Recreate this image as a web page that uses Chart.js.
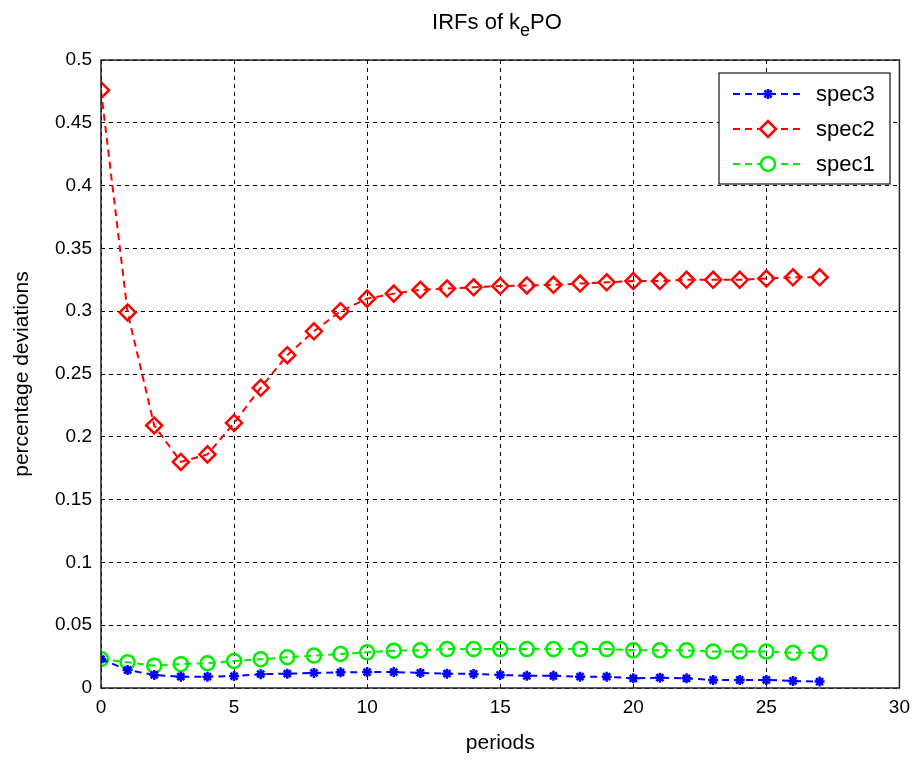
<!DOCTYPE html>
<html lang="en">
<head>
    <meta charset="UTF-8">
    <title>IRFs of kePO</title>
    <script src="https://cdn.jsdelivr.net/npm/chart.js"></script>
    <style>
        html, body { margin: 0; padding: 0; background: #fff; }
        #wrap { width: 918px; height: 760px; position: relative; }
    </style>
</head>
<body>
    <div id="wrap"><canvas id="irfChart" width="918" height="760"></canvas></div>
    <script>
        // values
        const periods = [0,1,2,3,4,5,6,7,8,9,10,11,12,13,14,15,16,17,18,19,20,21,22,23,24,25,26,27];
        const spec3 = [0.023,0.0143,0.0104,0.009,0.009,0.0095,0.011,0.0114,0.012,0.0125,0.0127,0.0127,0.012,0.0114,0.0112,0.0104,0.0097,0.0097,0.009,0.009,0.0077,0.0082,0.0077,0.0064,0.0064,0.0064,0.0056,0.0051];
        const spec2 = [0.476,0.299,0.209,0.180,0.186,0.211,0.239,0.265,0.284,0.300,0.310,0.314,0.317,0.318,0.319,0.320,0.3205,0.321,0.322,0.323,0.324,0.324,0.325,0.325,0.325,0.326,0.327,0.327];
        const spec1 = [0.023,0.0205,0.0178,0.019,0.0197,0.0215,0.0229,0.0245,0.0258,0.0271,0.0284,0.0297,0.030,0.031,0.031,0.031,0.031,0.031,0.031,0.031,0.030,0.030,0.030,0.029,0.029,0.029,0.028,0.028];
        const xTicks = [0, 5, 10, 15, 20, 25, 30];
        const yTicks = [0, 0.05, 0.1, 0.15, 0.2, 0.25, 0.3, 0.35, 0.4, 0.45, 0.5];

        const toPoints = arr => arr.map((v, i) => ({ x: periods[i], y: v }));
        const FONT = '"Liberation Sans", Arial, sans-serif';

        function series(label, values, color, style, radius) {
            return {
                label: label,
                data: toPoints(values),
                borderColor: color,
                backgroundColor: 'rgba(0,0,0,0)',
                borderWidth: 2,
                borderDash: [7, 5],
                pointStyle: style,
                pointRadius: radius,
                pointBorderColor: color,
                pointBorderWidth: 2.5,
                pointBackgroundColor: 'rgba(0,0,0,0)',
                tension: 0
            };
        }

        // frame, title and legend in matlab style
        const decor = {
            id: 'decor',
            afterDraw(chart) {
                const ctx = chart.ctx;
                const a = chart.chartArea;
                ctx.save();
                ctx.strokeStyle = '#222';
                ctx.lineWidth = 1.5;
                ctx.setLineDash([]);
                ctx.strokeRect(a.left, a.top, a.right - a.left, a.bottom - a.top);

                // title with subscript
                ctx.fillStyle = '#000';
                ctx.textBaseline = 'alphabetic';
                ctx.textAlign = 'left';
                const big = '22px ' + FONT, small = '18px ' + FONT;
                ctx.font = big;
                const w0 = ctx.measureText('IRFs of k').width;
                const w2 = ctx.measureText('PO').width;
                ctx.font = small;
                const w1 = ctx.measureText('e').width;
                const x = 497 - (w0 + w1 + w2) / 2;
                const base = 29;
                ctx.font = big;
                ctx.fillText('IRFs of k', x, base);
                ctx.fillText('PO', x + w0 + w1, base);
                ctx.font = small;
                ctx.fillText('e', x + w0, base + 7);

                // legend box
                const lx = 719, ly = 73, lw = 171, lh = 111;
                ctx.fillStyle = '#fff';
                ctx.fillRect(lx, ly, lw, lh);
                ctx.strokeStyle = '#111';
                ctx.lineWidth = 1.2;
                ctx.strokeRect(lx, ly, lw, lh);
                chart.data.datasets.forEach((ds, i) => {
                    const yy = ly + 21 + i * 35;
                    ctx.strokeStyle = ds.borderColor;
                    ctx.lineWidth = 2;
                    ctx.setLineDash([7, 5]);
                    ctx.beginPath();
                    ctx.moveTo(lx + 14, yy);
                    ctx.lineTo(lx + 84, yy);
                    ctx.stroke();
                    ctx.setLineDash([]);
                    ctx.lineWidth = 2.5;
                    ctx.fillStyle = '#fff';
                    Chart.helpers.drawPoint(ctx, { pointStyle: ds.pointStyle, radius: ds.pointRadius, borderWidth: 2.5, rotation: 0 }, lx + 49, yy);
                    ctx.fillStyle = '#000';
                    ctx.font = '22px ' + FONT;
                    ctx.textBaseline = 'middle';
                    ctx.fillText(ds.label, lx + 97, yy + 1);
                });
                ctx.restore();
            }
        };

        new Chart(document.getElementById('irfChart'), {
            type: 'line',
            data: {
                datasets: [
                    series('spec3', spec3, '#0000ff', 'star', 5),
                    series('spec2', spec2, '#ff0000', 'rectRot', 8),
                    series('spec1', spec1, '#00ee00', 'circle', 7)
                ]
            },
            options: {
                responsive: false,
                animation: false,
                layout: { padding: { top: 60, right: 17, left: 6, bottom: 0 } },
                plugins: {
                    legend: { display: false },
                    title: { display: false },
                    tooltip: { enabled: false }
                },
                scales: {
                    x: {
                        type: 'linear',
                        min: 0, max: 30,
                        afterFit(s) { s.height = 72; },
                        afterBuildTicks(s) { s.ticks = xTicks.map(v => ({ value: v })); },
                        ticks: { color: '#000', font: { family: FONT, size: 19 }, padding: 8, maxRotation: 0 },
                        grid: { color: '#000', lineWidth: 1, tickLength: 0, drawTicks: false },
                        border: { display: false, dash: [4, 4] },
                        title: { display: true, text: 'periods', color: '#000', font: { family: FONT, size: 21 }, padding: { top: 6 } }
                    },
                    y: {
                        min: 0, max: 0.5,
                        afterFit(s) { s.width = 95; },
                        afterBuildTicks(s) { s.ticks = yTicks.map(v => ({ value: v })); },
                        ticks: { color: '#000', font: { family: FONT, size: 19 }, padding: 9, callback: v => String(+v.toFixed(2)) },
                        grid: { color: '#000', lineWidth: 1, tickLength: 0, drawTicks: false },
                        border: { display: false, dash: [4, 4] },
                        title: { display: true, text: 'percentage deviations', color: '#000', font: { family: FONT, size: 21 }, padding: { bottom: 4 } }
                    }
                }
            },
            plugins: [decor]
        });
    </script>
</body>
</html>
